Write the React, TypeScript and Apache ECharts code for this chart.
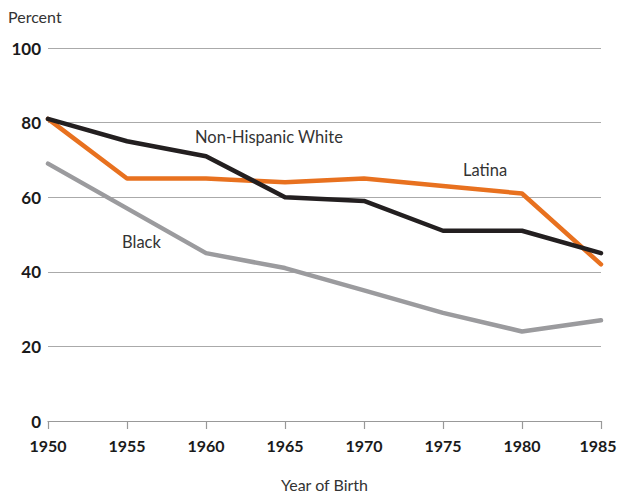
import React, { useEffect, useRef } from "react";
import * as echarts from "echarts";

const years = ["1950", "1955", "1960", "1965", "1970", "1975", "1980", "1985"];
const white = [81, 75, 71, 60, 59, 51, 51, 45];
const latina = [81, 65, 65, 64, 65, 63, 61, 42];
const black = [69, 57, 45, 41, 35, 29, 24, 27];
const yTicks = [0, 20, 40, 60, 80, 100];

const FONT = "Lato, 'Noto Sans', sans-serif";

export default function App() {
  const ref = useRef<HTMLDivElement>(null);
  useEffect(() => {
    const chart = echarts.init(ref.current!, undefined, { renderer: "svg" });
    const mk = (name: string, data: number[], color: string) => ({
      name,
      type: "line",
      data,
      symbol: "none",
      lineStyle: { color, width: 4.5, cap: "round", join: "round" },
      z: name === "White" ? 4 : name === "Latina" ? 3 : 2,
    });
    const lastYear = years[years.length - 1];
    chart.setOption({
      animation: false,
      grid: { left: 48, right: 17, top: 48, bottom: 72, containLabel: false, outerBoundsMode: "none" },
      xAxis: {
        type: "category",
        data: years,
        boundaryGap: false,
        name: "Year of Birth",
        nameLocation: "middle",
        nameGap: 55,
        nameTextStyle: { fontFamily: FONT, fontSize: 16, color: "#333" },
        axisLine: { show: true, lineStyle: { color: "#999", width: 1.2 } },
        axisTick: { show: true, length: 8, lineStyle: { color: "#999", width: 1.2 } },
        axisLabel: {
          fontFamily: FONT,
          fontSize: 16,
          fontWeight: "bold",
          color: "#1a1a1a",
          margin: 16,
          formatter: (v: string) => (v === lastYear ? `{e|${v}}` : v),
          rich: {
            e: {
              fontFamily: FONT,
              fontSize: 16,
              fontWeight: "bold",
              color: "#1a1a1a",
              padding: [0, 6, 0, 0],
            },
          },
        },
      },
      yAxis: {
        type: "value",
        min: yTicks[0],
        max: yTicks[yTicks.length - 1],
        interval: 20,
        axisLine: { show: false },
        axisTick: { show: false },
        splitLine: { lineStyle: { color: "#aaa", width: 1.2 } },
        axisLabel: {
          fontFamily: FONT,
          fontSize: 17,
          fontWeight: "bold",
          color: "#1a1a1a",
          margin: 7,
        },
      },
      graphic: [
        { type: "text", left: 8, top: 8, style: { text: "Percent", font: `16px ${FONT}`, fill: "#333" } },
        { type: "text", left: 195, top: 128, style: { text: "Non-Hispanic White", font: `16.5px ${FONT}`, fill: "#333" } },
        { type: "text", left: 463, top: 161, style: { text: "Latina", font: `16.5px ${FONT}`, fill: "#333" } },
        { type: "text", left: 122, top: 233, style: { text: "Black", font: `16.5px ${FONT}`, fill: "#333" } },
      ],
      series: [
        mk("Black", black, "#9b9b9e"),
        mk("Latina", latina, "#e8711f"),
        mk("White", white, "#231f20"),
      ],
    });
    return () => chart.dispose();
  }, []);
  return <div ref={ref} style={{ position: "fixed", left: 0, top: 0, width: 618, height: 493, background: "#fff" }} />;
}
